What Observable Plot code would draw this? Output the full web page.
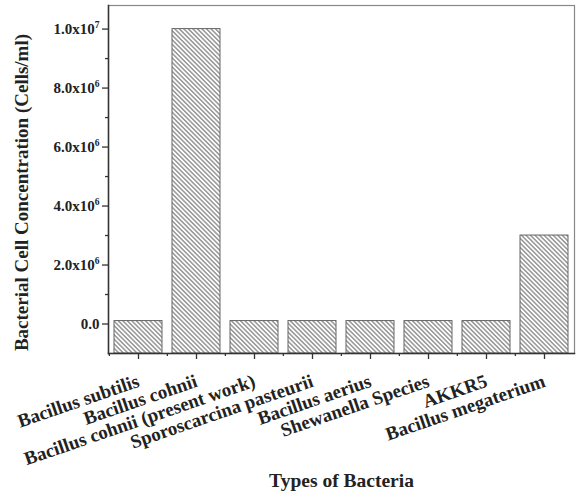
<!DOCTYPE html>
<html>
<head>
<meta charset="utf-8">
<script src="https://cdn.jsdelivr.net/npm/d3@7"></script>
<script src="https://cdn.jsdelivr.net/npm/@observablehq/plot@0.6"></script>
<style>
  html, body { margin: 0; padding: 0; background: #fff; }
</style>
</head>
<body>
<div id="chart"></div>
<script>
const categories = ["Bacillus subtilis", "Bacillus cohnii", "Bacillus cohnii (present work)", "Sporoscarcina pasteurii", "Bacillus aerius", "Shewanella Species", "AKKR5", "Bacillus megaterium"];
const values = [1e5, 1e7, 1e5, 1e5, 1e5, 1e5, 1e5, 3e6];
const yTicks = [0, 2e6, 4e6, 6e6, 8e6, 1e7];
const yTickLabels = ["0.0", "2.0x10^6", "4.0x10^6", "6.0x10^6", "8.0x10^6", "1.0x10^7"];
const yMinorTicks = [1e6, 3e6, 5e6, 7e6, 9e6];
const yDomain = [-1e6, 10.8e6];
const xTitle = "Types of Bacteria";
const yTitle = "Bacterial Cell Concentration (Cells/ml)";

const W = 576, H = 496;
const mL = 108, mR = 2, mT = 5, mB = 143;
const step = (W - mL - mR) / categories.length;

const data = categories.map((name, i) => ({name, value: values[i]}));
const font = "'Liberation Serif', 'Times New Roman', serif";

const chart = Plot.plot({
  width: W, height: H,
  marginLeft: mL, marginRight: mR, marginTop: mT, marginBottom: mB,
  style: {fontFamily: font, background: "#fff", color: "#222"},
  x: {domain: categories, paddingInner: 0.18, paddingOuter: 0.09, label: null},
  y: {domain: yDomain, label: null},
  marks: [
    Plot.barY(data, {x: "name", y1: yDomain[0], y2: "value", fill: "url(#hatch)", stroke: "#666", strokeWidth: 1, inset: 0}),
    Plot.frame({stroke: "#888", strokeWidth: 1.2}),
    Plot.frame({anchor: "left", stroke: "#333", strokeWidth: 1.5}),
    Plot.frame({anchor: "bottom", stroke: "#333", strokeWidth: 1.5}),
    Plot.axisY(yTicks, {tickSize: 6, tickPadding: 3, stroke: "#333", strokeWidth: 1.3,
      tickFormat: (d) => yTickLabels[yTicks.indexOf(d)], fontSize: 15, fontWeight: "bold", fill: "#222", label: null}),
    Plot.axisY(yMinorTicks, {tickSize: 3, stroke: "#333", strokeWidth: 1.3, tickFormat: () => "", label: null}),
    Plot.axisX(categories, {tickSize: 6, tickPadding: 21, tickRotate: -19, stroke: "#333", strokeWidth: 1.3,
      fontSize: 19, fontWeight: "bold", fill: "#222", label: null}),
    Plot.axisX(categories, {tickSize: 3, dx: -step / 2, stroke: "#333", strokeWidth: 1.3, tickFormat: () => "", label: null}),
    Plot.text([xTitle], {frameAnchor: "bottom", dy: 133, text: d => d, fontSize: 19.5, fontWeight: "bold", fill: "#222"}),
    Plot.text([yTitle], {frameAnchor: "left", dx: -87, dy: 13, rotate: -90, textAnchor: "middle", text: d => d, fontSize: 19, fontWeight: "bold", fill: "#222"})
  ]
});

// hatch pattern
const svg = d3.select(chart);
svg.insert("defs", ":first-child").html(
  `<pattern id="hatch" patternUnits="userSpaceOnUse" width="3.2" height="3.2" patternTransform="rotate(-45)">
     <rect width="3.2" height="3.2" fill="#fff"/>
     <line x1="0.8" y1="0" x2="0.8" y2="3.2" stroke="#6f6f6f" stroke-width="1.1"/>
   </pattern>`
);

// superscripts in y tick labels
svg.selectAll("text").each(function () {
  const t = this.textContent;
  if (t.includes("^")) {
    const [base, exp] = t.split("^");
    const el = d3.select(this);
    el.text(null);
    el.append("tspan").text(base);
    el.append("tspan").attr("font-size", 9.5).attr("dy", "-0.65em").text(exp);
  }
});

document.getElementById("chart").appendChild(chart);
</script>
</body>
</html>
